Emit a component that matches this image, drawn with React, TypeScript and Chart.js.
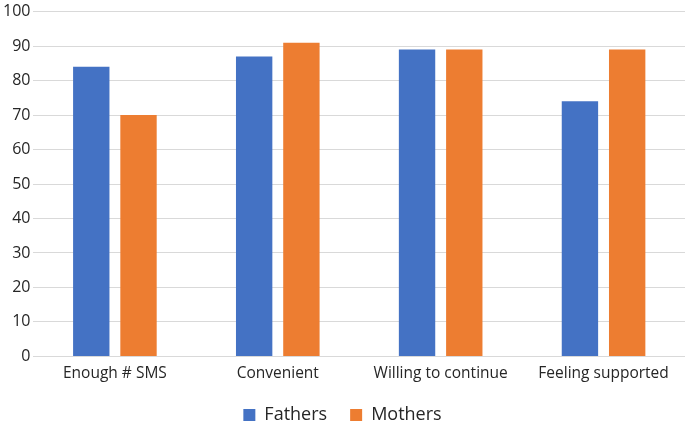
import React, { useEffect, useRef } from "react";
import { Chart, registerables } from "chart.js";

Chart.register(...registerables);

const categories = ["Enough # SMS", "Convenient", "Willing to continue", "Feeling supported"];
const fathers = [84, 87, 89, 74];
const mothers = [70, 91, 89, 89];
const yMin = 0;
const yMax = 100;
const yStep = 10;

export default function App() {
  const ref = useRef<HTMLCanvasElement | null>(null);
  useEffect(() => {
    document.body.style.margin = "0";
    const ctx = ref.current!;
    const chart = new Chart(ctx, {
      type: "bar",
      data: {
        labels: categories,
        datasets: [
          { label: "Fathers", data: fathers, backgroundColor: "#4472C4" },
          { label: "Mothers", data: mothers, backgroundColor: "#ED7D31" },
        ],
      },
      options: {
        animation: false,
        responsive: false,
        maintainAspectRatio: false,
        layout: { padding: { top: 0, right: 0, left: 0, bottom: 0 } },
        datasets: { bar: { categoryPercentage: 0.58, barPercentage: 0.77 } },
        plugins: {
          tooltip: { enabled: false },
          legend: {
            position: "bottom",
            labels: {
              boxWidth: 12,
              boxHeight: 12,
              padding: 23,
              color: "#262626",
              font: { family: "'Open Sans', sans-serif", size: 18 },
            },
          },
        },
        scales: {
          x: {
            grid: { display: false },
            border: { display: true, color: "#d9d9d9", width: 1 },
            ticks: {
              color: "#262626",
              padding: 0,
              maxRotation: 0,
              font: { family: "'Open Sans', sans-serif", size: 15.5 },
            },
          },
          y: {
            min: yMin,
            max: yMax,
            grid: { color: "#d9d9d9", lineWidth: 1, drawTicks: false },
            border: { display: false },
            ticks: {
              stepSize: yStep,
              padding: 3,
              color: "#262626",
              font: { family: "'Open Sans', sans-serif", size: 16 },
            },
          },
        },
      },
    });
    return () => chart.destroy();
  }, []);
  return (
    <div style={{ position: "absolute", left: 0, top: -1, width: 685, height: 435 }}>
      <canvas ref={ref} width={685} height={435} style={{ width: 685, height: 435 }} />
    </div>
  );
}
